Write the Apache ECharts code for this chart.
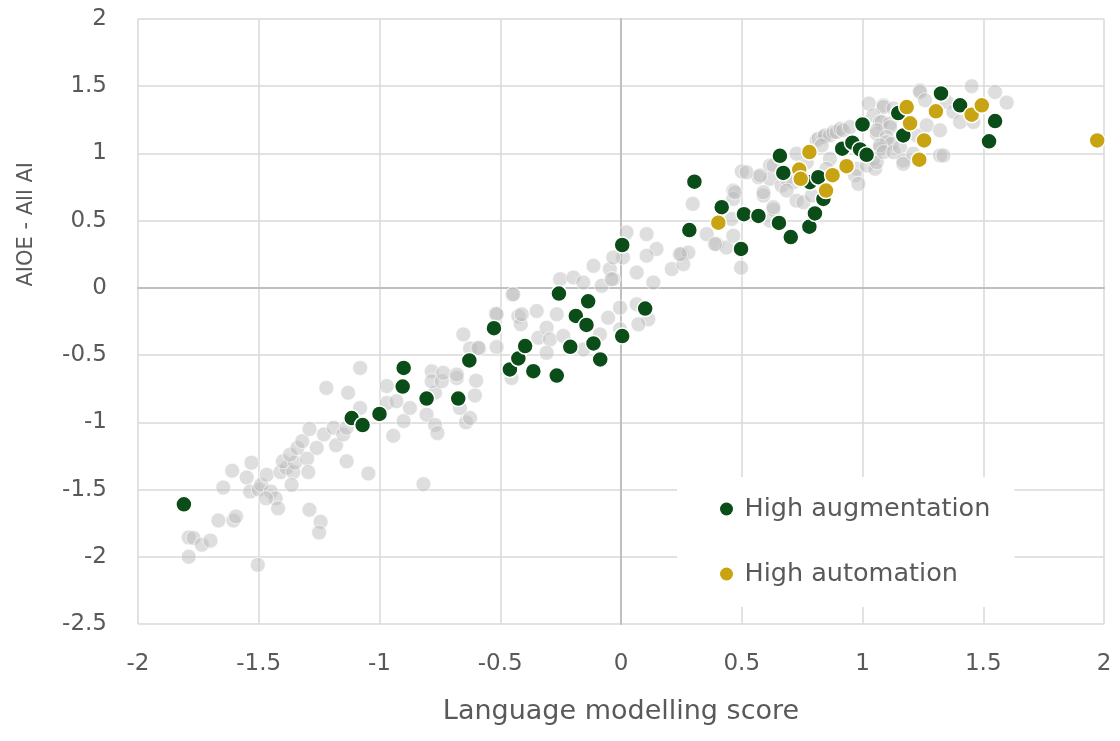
<!DOCTYPE html>
<html>
<head>
<meta charset="utf-8">
<script src="https://cdn.jsdelivr.net/npm/echarts@6/dist/echarts.min.js"></script>
<style>html,body{margin:0;padding:0;background:#fff}#c{width:1120px;height:741px}</style>
</head>
<body>
<div id="c"></div>
<script>
var xTicks = [-2, -1.5, -1, -0.5, 0, 0.5, 1, 1.5, 2];
var yTicks = [-2.5, -2, -1.5, -1, -0.5, 0, 0.5, 1, 1.5, 2];
var seriesNames = ['All occupations', 'High augmentation', 'High automation'];

var otherPoints = [
[-1.79,-2.0],[-1.79,-1.856],[-1.77,-1.86],[-1.736,-1.91],[-1.70,-1.88],[-1.667,-1.73],[-1.605,-1.73],[-1.594,-1.70],
[-1.647,-1.485],[-1.61,-1.36],[-1.55,-1.41],[-1.53,-1.30],[-1.536,-1.515],[-1.50,-1.50],[-1.49,-1.465],[-1.467,-1.39],
[-1.45,-1.515],[-1.43,-1.565],[-1.47,-1.565],[-1.42,-1.64],[-1.504,-2.06],[-1.41,-1.37],[-1.385,-1.34],[-1.357,-1.37],
[-1.364,-1.465],[-1.40,-1.29],[-1.35,-1.30],[-1.37,-1.24],[-1.30,-1.27],[-1.295,-1.37],[-1.34,-1.19],[-1.32,-1.14],
[-1.26,-1.19],[-1.29,-1.05],[-1.23,-1.09],[-1.18,-1.17],[-1.19,-1.04],[-1.22,-0.744],[-1.15,-1.09],[-1.136,-1.04],
[-1.136,-1.29],[-1.046,-1.38],[-1.29,-1.65],[-1.244,-1.74],[-1.25,-1.82],[-1.13,-0.78],[-1.08,-0.595],[-1.08,-0.893],
[-0.97,-0.73],[-0.97,-0.856],[-0.93,-0.843],[-0.943,-1.10],[-0.9,-0.99],[-0.874,-0.893],[-0.818,-1.46],[-0.805,-0.943],
[-0.77,-1.02],[-0.76,-1.08],[-0.77,-0.78],[-0.784,-0.62],[-0.784,-0.694],[-0.742,-0.694],[-0.736,-0.632],[-0.68,-0.67],
[-0.667,-0.893],[-0.642,-1.0],[-0.625,-0.968],[-0.605,-0.8],[-0.6,-0.69],[-0.653,-0.346],[-0.625,-0.45],[-0.587,-0.45],
[-0.515,-0.44],[-0.45,-0.05],[-0.518,-0.19],[-0.425,-0.21],[-0.415,-0.27],
[-0.591,-0.446],[-0.515,-0.196],[-0.68,-0.644],[-0.453,-0.67],[-0.446,-0.047],[-0.411,-0.196],[-0.349,-0.172],
[-0.342,-0.371],[-0.308,-0.296],[-0.294,-0.383],[-0.266,-0.196],[-0.239,-0.358],[-0.308,-0.483],[-0.156,-0.458],
[-0.252,0.065],[-0.197,0.077],[-0.156,0.04],[-0.114,0.164],[-0.08,0.015],[-0.046,0.14],[-0.032,0.065],[-0.004,-0.147],
[-0.053,-0.222],[0.065,-0.122],[0.113,-0.234],[0.072,-0.271],[-0.004,-0.308],[-0.087,-0.346],[0.023,0.413],[0.106,0.40],
[0.147,0.289],[0.106,0.239],[0.065,0.114],[0.134,0.04],[0.21,0.14],[0.251,0.251],[0.279,0.263],[0.258,0.177],
[0.297,0.625],[0.465,0.724],[0.59,0.687],[0.355,0.40],[0.396,0.326],[0.437,0.30],[0.465,0.388],[0.497,0.15],
[0.008,0.226],[-0.032,0.226],[-0.039,0.065],[0.244,0.251],[0.389,0.326],[0.458,0.513],[0.465,0.662],[0.472,0.711],
[0.50,0.866],[0.569,0.823],[0.617,0.91],[0.617,0.811],[0.665,0.761],[0.617,0.50],[0.631,0.58],
[0.52,0.86],[0.576,0.836],[0.59,0.711],[0.631,0.91],[0.631,0.60],[0.686,0.811],[0.714,0.786],[0.686,0.724],
[0.727,0.649],[0.755,0.637],[0.79,0.687],[0.769,0.935],[0.727,0.998],[0.81,1.097],[0.818,1.11],[0.838,1.122],
[0.845,1.134],[0.865,1.134],[0.88,1.159],[0.893,1.159],[0.909,1.184],[0.92,1.172],[0.948,1.196],[0.831,1.06],
[0.865,0.96],[0.851,0.886],[0.976,0.886],[0.969,0.836],[0.983,0.774],[1.017,0.91],[1.052,0.886],[1.045,0.96],
[1.059,0.935],[1.026,1.371],[1.087,1.358],[1.087,1.346],[1.128,1.334],[1.045,1.284],[1.072,1.234],[1.08,1.234],
[1.114,1.222],[1.114,1.196],[1.059,1.147],[1.059,1.172],[1.10,1.122],[1.10,1.084],[1.121,1.072],[1.072,1.035],
[1.072,1.06],[1.087,1.01],[1.128,1.01],[1.155,1.047],[1.169,0.948],[1.169,0.923],[1.21,0.998],[1.224,1.134],
[1.266,1.209],[1.321,1.172],[1.321,0.985],[1.335,0.985],[1.238,1.47],[1.238,1.457],[1.259,1.396],[1.349,1.383],
[1.376,1.31],[1.404,1.234],[1.459,1.234],[1.452,1.50],[1.549,1.457],[1.597,1.378]
];

var augmentationPoints = [
[-1.81,-1.61],[-1.115,-0.968],[-1.07,-1.02],[-1.0,-0.938],[-0.9,-0.595],[-0.904,-0.734],[-0.805,-0.823],[-0.674,-0.823],
[-0.628,-0.54],[-0.526,-0.30],[-0.46,-0.607],[-0.425,-0.525],[-0.397,-0.433],[-0.363,-0.62],[-0.266,-0.652],[-0.257,-0.042],
[-0.21,-0.438],[-0.187,-0.209],[-0.143,-0.276],[-0.136,-0.10],[-0.114,-0.413],[-0.086,-0.532],[0.005,-0.358],[0.1,-0.154],
[0.005,0.319],[0.283,0.43],[0.304,0.79],[0.417,0.60],[0.497,0.29],[0.509,0.548],[0.569,0.535],[0.654,0.483],
[0.703,0.378],[0.658,0.982],[0.672,0.855],[0.78,0.455],[0.803,0.554],[0.838,0.662],[0.782,0.786],[0.817,0.823],
[0.916,1.035],[0.958,1.08],[0.99,1.03],[1.017,0.99],[1.0,1.216],[1.148,1.30],[1.169,1.134],[1.325,1.446],
[1.404,1.358],[1.549,1.241],[1.524,1.09]
];

var automationPoints = [
[0.403,0.485],[0.738,0.88],[0.744,0.811],[0.78,1.01],[0.849,0.724],[0.876,0.838],[0.934,0.905],[1.183,1.345],
[1.197,1.224],[1.255,1.097],[1.235,0.954],[1.304,1.313],[1.452,1.288],[1.494,1.358],[1.972,1.097]
];

var chart = echarts.init(document.getElementById('c'), null, {renderer: 'canvas'});
var tickFont = {fontFamily: 'DejaVu Sans', fontSize: 23, color: '#595959'};
var gridLine = {show: true, lineStyle: {color: '#d9d9d9', width: 1.5}};

chart.setOption({
  animation: false,
  backgroundColor: '#ffffff',
  grid: {left: 138, right: 16, top: 19, bottom: 117, containLabel: false},
  xAxis: [{
    type: 'value', min: xTicks[0], max: xTicks[xTicks.length - 1], interval: 0.5,
    position: 'bottom',
    axisLine: {show: false, onZero: false}, axisTick: {show: false},
    axisLabel: Object.assign({margin: 29, formatter: function (v) { return String(v); }}, tickFont),
    splitLine: gridLine,
    name: 'Language modelling score', nameLocation: 'middle', nameGap: 74,
    nameTextStyle: {fontFamily: 'DejaVu Sans', fontSize: 27, color: '#595959'}
  }, {
    type: 'value', min: xTicks[0], max: xTicks[xTicks.length - 1], interval: 0.5,
    axisLine: {show: true, onZero: true, lineStyle: {color: '#bfbfbf', width: 2}},
    axisTick: {show: false}, axisLabel: {show: false}, splitLine: {show: false}
  }],
  yAxis: [{
    type: 'value', min: yTicks[0], max: yTicks[yTicks.length - 1], interval: 0.5,
    position: 'left',
    axisLine: {show: false, onZero: false}, axisTick: {show: false},
    axisLabel: Object.assign({margin: 31, formatter: function (v) { return String(v); }}, tickFont),
    splitLine: gridLine
  }, {
    type: 'value', min: yTicks[0], max: yTicks[yTicks.length - 1], interval: 0.5,
    axisLine: {show: true, onZero: true, lineStyle: {color: '#bfbfbf', width: 2}},
    axisTick: {show: false}, axisLabel: {show: false}, splitLine: {show: false}
  }],
  graphic: [{
    type: 'text', left: 16, top: 162, rotation: Math.PI / 2,
    style: {text: 'AIOE - All AI', font: '21px "DejaVu Sans"', fill: '#595959'}
  }],
  legend: {
    data: [seriesNames[1], seriesNames[2]],
    orient: 'vertical', left: 677, top: 477,
    backgroundColor: '#ffffff',
    padding: [17, 24, 18, 43],
    itemWidth: 26, itemHeight: 13, itemGap: 35,
    icon: 'circle',
    itemStyle: {borderWidth: 0},
    textStyle: {fontFamily: 'DejaVu Sans', fontSize: 25.5, color: '#595959', lineHeight: 30}
  },
  series: [{
    name: seriesNames[0], type: 'scatter', data: otherPoints, symbolSize: 15, z: 3,
    itemStyle: {color: 'rgba(185,185,185,0.6)', borderColor: 'rgba(255,255,255,0.8)', borderWidth: 1}
  }, {
    name: seriesNames[1], type: 'scatter', data: augmentationPoints, symbolSize: 16, z: 4,
    itemStyle: {color: '#0b4d18', borderColor: '#ffffff', borderWidth: 1.5, opacity: 1}
  }, {
    name: seriesNames[2], type: 'scatter', data: automationPoints, symbolSize: 16, z: 5,
    itemStyle: {color: '#c9a412', borderColor: '#ffffff', borderWidth: 1.5, opacity: 1}
  }]
});
</script>
</body>
</html>
